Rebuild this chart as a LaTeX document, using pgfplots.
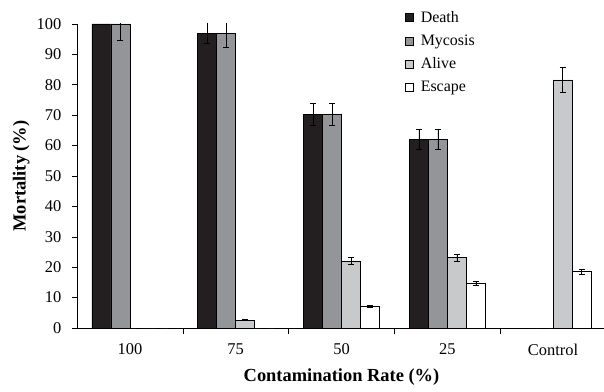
\documentclass[border=0pt]{standalone}
\usepackage{fontspec}
\setmainfont{Liberation Serif}
\usepackage{pgfplots}
\pgfplotsset{compat=1.18}
\definecolor{cDeath}{HTML}{231F20}
\definecolor{cMyc}{HTML}{939598}
\definecolor{cAlive}{HTML}{C8C9CB}
\begin{document}
\fontsize{16.5}{19}\selectfont
\begin{tikzpicture}
\useasboundingbox (-77bp,-64bp) rectangle (527bp,328bp);
\begin{axis}[
  scale only axis,
  width=529bp, height=304bp,
  xmin=-0.5, xmax=4.5,
  ymin=0, ymax=100,
  axis lines*=left,
  ybar=0pt, bar width=19bp,
  xtick={0,1,2,3,4},
  xticklabels={100,75,50,25,Control},
  minor xtick={0.5,1.5,2.5,3.5},
  major x tick style={draw=none},
  minor tick length=6bp,
  major tick length=5bp,
  tick align=outside,
  ytick={0,10,...,100},
  tick style={black, line width=0.6pt},
  axis line style={black, line width=0.6pt},
  ticklabel style={font=\fontsize{16.5}{19}\selectfont},
  /pgf/number format/assume math mode=true,
  xticklabel style={yshift=-5bp},
  yticklabel style={xshift=-5bp},
  xlabel={Contamination Rate (\%)},
  ylabel={Mortality (\%)},
  label style={font=\bfseries\fontsize{18.5}{21}\selectfont},
  xlabel style={yshift=-2bp},
  ylabel style={yshift=-4bp},
  legend style={draw=none, fill=none, at={(0.620,1.05)}, anchor=north west,
    font=\fontsize{16}{18}\selectfont, row sep=6bp, column sep=5bp, inner sep=0pt},
  legend cell align=left,
  legend image code/.code={\draw[#1, draw=black, line width=0.6pt] (0bp,-4bp) rectangle (8bp,4bp);},
  error bars/error bar style={black, line width=0.6pt},
  error bars/error mark options={rotate=90, mark size=3bp, black, line width=0.6pt},
  every axis plot/.append style={draw=black, line width=0.6pt},
]
\addplot[fill=cDeath, error bars/.cd, y dir=both, y explicit] coordinates {
  (0,100) +- (0,0)
  (1,97) +- (0,3.5)
  (2,70.3) +- (0,3.5)
  (3,62) +- (0,3.2)
  (4,0) +- (0,0)
};
\addplot[fill=cMyc, error bars/.cd, y dir=both, y explicit] coordinates {
  (0,100) +- (0,5.2)
  (1,97) +- (0,4.6)
  (2,70.3) +- (0,3.5)
  (3,62) +- (0,3.2)
  (4,0) +- (0,0)
};
\addplot[fill=cAlive, error bars/.cd, y dir=both, y explicit] coordinates {
  (0,0) +- (0,0)
  (1,2.6) +- (0,0.2)
  (2,22.1) +- (0,1.2)
  (3,23.1) +- (0,1.1)
  (4,81.6) +- (0,4.2)
};
\addplot[fill=white, error bars/.cd, y dir=both, y explicit] coordinates {
  (0,0) +- (0,0)
  (1,0) +- (0,0)
  (2,7.2) +- (0,0.4)
  (3,14.7) +- (0,0.7)
  (4,18.5) +- (0,0.8)
};
\legend{Death,Mycosis,Alive,Escape}
\end{axis}
\end{tikzpicture}
\end{document}
